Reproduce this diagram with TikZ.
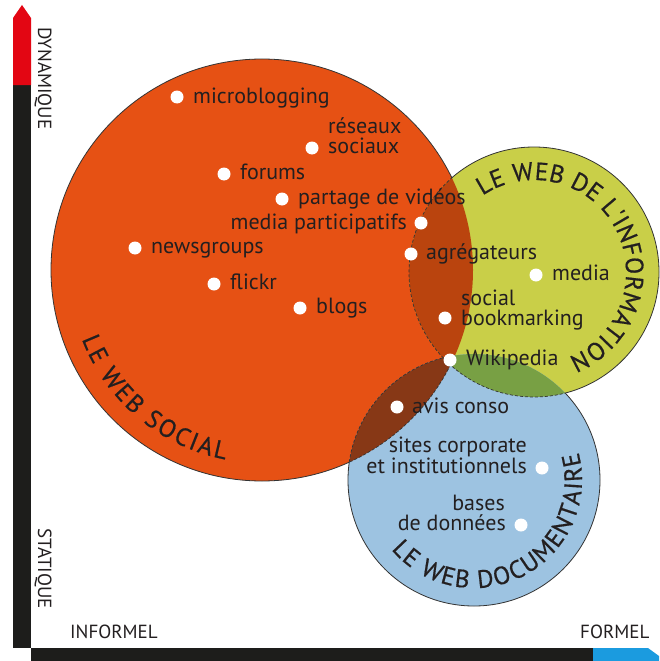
\documentclass[tikz,border=0pt]{standalone}
\usepackage{fontspec}
\setmainfont{PT Sans}
\newfontfamily\curvfam[FakeBold=0.6]{PT Sans}
\usetikzlibrary{decorations.text}
\definecolor{orng}{HTML}{E65114}
\definecolor{ylw}{HTML}{C9CF48}
\definecolor{blu}{HTML}{9DC3E1}
\definecolor{oy}{HTML}{BA440E}
\definecolor{ob}{HTML}{873816}
\definecolor{yb}{HTML}{78A044}
\definecolor{oyb}{HTML}{6E4A1C}
\definecolor{txt}{HTML}{231F20}
\definecolor{edgec}{HTML}{333333}
\definecolor{axblack}{HTML}{1D1D1B}
\definecolor{axred}{HTML}{E30613}
\definecolor{axblue}{HTML}{1B9BDF}
\newcommand\radO{211}
\newcommand\radY{125}
\newcommand\radB{126}
\newcommand\curvfont{\curvfam\fontsize{25}{25}\selectfont}
\begin{document}
\begin{tikzpicture}[x=1pt,y=1pt,
  dot/.style={circle, fill=white, inner sep=0pt, minimum size=13pt},
  lbl/.style={font=\fontsize{22}{24}\selectfont, text=txt, inner sep=0pt},
  axl/.style={font=\fontsize{19}{20}\selectfont, text=txt, inner sep=0pt},
  edge/.style={draw=edgec, line width=0.8pt},
  dashedge/.style={draw=edgec, line width=0.7pt, dash pattern=on 3pt off 2pt},
  curv/.style={decorate, decoration={text along path, text color=txt, text align={fit to path}, text={#1}}}
]
\useasboundingbox (0,0) rectangle (659,-661);
\fill[white] (0,0) rectangle (659,-661);
\coordinate (O) at (262,-270);
\coordinate (Y) at (534,-272);
\coordinate (B) at (474,-480);
% fills
\fill[orng] (O) circle[radius=\radO];
\fill[ylw] (Y) circle[radius=\radY];
\fill[blu] (B) circle[radius=\radB];
\begin{scope}
  \clip (Y) circle[radius=\radY];
  \fill[yb] (B) circle[radius=\radB];
\end{scope}
\begin{scope}
  \clip (O) circle[radius=\radO];
  \fill[oy] (Y) circle[radius=\radY];
  \fill[ob] (B) circle[radius=\radB];
  \clip (Y) circle[radius=\radY];
  \fill[oyb] (B) circle[radius=\radB];
\end{scope}
% solid outlines
\begin{scope}[even odd rule]
  \clip (-20,20) rectangle (680,-680) (Y) circle[radius=\radY];
  \clip (-20,20) rectangle (680,-680) (B) circle[radius=\radB];
  \draw[edge] (O) circle[radius=\radO];
\end{scope}
\begin{scope}[even odd rule]
  \clip (-20,20) rectangle (680,-680) (O) circle[radius=\radO];
  \clip (-20,20) rectangle (680,-680) (B) circle[radius=\radB];
  \draw[edge] (Y) circle[radius=\radY];
\end{scope}
\begin{scope}[even odd rule]
  \clip (-20,20) rectangle (680,-680) (O) circle[radius=\radO];
  \clip (-20,20) rectangle (680,-680) (Y) circle[radius=\radY];
  \draw[edge] (B) circle[radius=\radB];
\end{scope}
% dashed outlines
\begin{scope}
  \clip (B) circle[radius=\radB];
  \draw[dashedge] (O) circle[radius=\radO];
  \draw[dashedge] (Y) circle[radius=\radY];
\end{scope}
\begin{scope}
  \clip (O) circle[radius=\radO];
  \draw[dashedge] (Y) circle[radius=\radY];
  \draw[dashedge] (B) circle[radius=\radB];
\end{scope}
% curved titles
\path[curv={|\curvfont|LE WEB SOCIAL}] (O) ++(201:193) arc[start angle=201, end angle=259, radius=193];
\path[curv={|\curvfont|LE WEB DE L'INFORMATION}] (Y) ++(124:92) arc[start angle=124, end angle=-68, radius=92];
\path[curv={|\curvfont|LE WEB DOCUMENTAIRE}] (B) ++(220:108) arc[start angle=220, end angle=375, radius=108];
% axes
\fill[axblack] (13,-85) rectangle (31,-648);
\fill[axred] (13,-85) -- (13,-18) -- (22,-5) -- (31,-18) -- (31,-85) -- cycle;
\fill[axblack] (31,-648) rectangle (593,-661);
\fill[axblue] (593,-648) -- (648,-648) -- (659,-656) -- (659,-661) -- (593,-661) -- cycle;
\node[axl, rotate=-90, anchor=base west] (dyn) at (38,-27) {DYNAMIQUE};
\node[axl, rotate=-90, anchor=base west] (stat) at (38,-528) {STATIQUE};
\node[axl, anchor=base west] (inf) at (70,-638) {INFORMEL};
\node[axl, anchor=base west] (form) at (580,-638) {FORMEL};
% dots and labels
\node[dot] (d1) at (177,-97) {};
\node[lbl, anchor=base west] (t1) at (193,-103) {microblogging};
\node[dot] (d2) at (312,-148) {};
\node[lbl, anchor=base west] (t2a) at (328,-133) {réseaux};
\node[lbl, anchor=base west] (t2b) at (328,-153) {sociaux};
\node[dot] (d3) at (224,-174) {};
\node[lbl, anchor=base west] (t3) at (240,-179) {forums};
\node[dot] (d4) at (282,-199) {};
\node[lbl, anchor=base west] (t4) at (298,-204) {partage de vidéos};
\node[dot] (d5) at (421,-223) {};
\node[lbl, anchor=base east] (t5) at (407,-229) {media participatifs};
\node[dot] (d6) at (135,-248) {};
\node[lbl, anchor=base west] (t6) at (151,-253) {newsgroups};
\node[dot] (d7) at (411,-254) {};
\node[lbl, anchor=base west] (t7) at (426,-259) {agrégateurs};
\node[dot] (d8) at (536,-275) {};
\node[lbl, anchor=base west] (t8) at (552,-280) {media};
\node[dot] (d9) at (214,-284) {};
\node[lbl, anchor=base west] (t9) at (230,-289) {flickr};
\node[dot] (d10) at (300,-308) {};
\node[lbl, anchor=base west] (t10) at (316,-313) {blogs};
\node[dot] (d11) at (445,-318) {};
\node[lbl, anchor=base west] (t11a) at (461,-305) {social};
\node[lbl, anchor=base west] (t11b) at (461,-325) {bookmarking};
\node[dot] (d12) at (450,-360) {};
\node[lbl, anchor=base west] (t12) at (466,-365) {Wikipedia};
\node[dot] (d13) at (397,-407) {};
\node[lbl, anchor=base west] (t13) at (412,-413) {avis conso};
\node[dot] (d14) at (542,-468) {};
\node[lbl, anchor=base east] (t14a) at (527,-452) {sites corporate};
\node[lbl, anchor=base east] (t14b) at (527,-473) {et institutionnels};
\node[dot] (d15) at (521,-525) {};
\node[lbl, anchor=base east] (t15a) at (505,-510) {bases};
\node[lbl, anchor=base east] (t15b) at (506,-530) {de données};
\end{tikzpicture}
\end{document}
